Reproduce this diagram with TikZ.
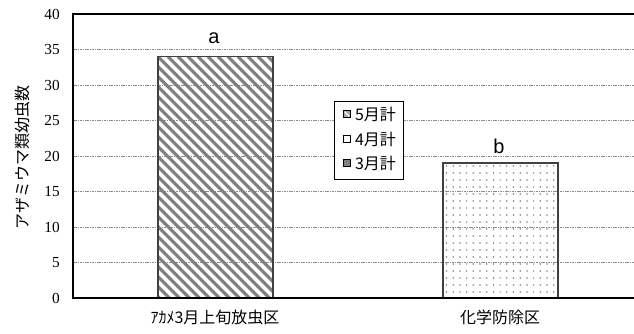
\documentclass[tikz,border=0pt]{standalone}
\usepackage{fontspec}
\setmainfont{Liberation Serif}
\setsansfont{Liberation Sans}
\newfontfamily\jpfont{Noto Sans CJK JP}
\usetikzlibrary{positioning}
\begin{document}
\begin{tikzpicture}[x=0.75pt,y=-0.75pt,
    gridline/.style={black!45,dash pattern=on 1.2pt off 0.6pt,line width=0.7pt},
    ticklabel/.style={anchor=east,inner sep=0pt,font=\fontsize{11.5}{13}\selectfont},
    catlabel/.style={inner sep=0pt,font=\jpfont\fontsize{12}{14}\selectfont},
    siglabel/.style={inner sep=0pt,font=\sffamily\fontsize{15}{17}\selectfont},
    barbox/.style={draw=black!75,line width=0.8pt},
    legendkey/.style={draw=black,line width=0.6pt,minimum size=5pt,inner sep=0pt},
    legendtext/.style={inner sep=0pt,font=\jpfont\fontsize{12}{14}\selectfont}]
    \useasboundingbox (0,0) rectangle (634,333);

    % grid lines
    \foreach \v in {5,10,...,35}
        \draw[gridline] (73,{298-7.1*\v}) -- (634,{298-7.1*\v});

    % bar 1 (hatched)
    \begin{scope}
        \clip (158,56.6) rectangle (273,298);
        \foreach \s in {-250,-240,...,120}
            \draw[gray,line width=2.3pt] ({158+\s},56.6) -- ++(250,250);
    \end{scope}
    \draw[barbox] (158,298) rectangle (273,56.6);

    % bar 2 (dotted)
    \begin{scope}
        \clip (443,163) rectangle (558,298);
        \foreach \i in {0,...,16}
            \foreach \j in {0,...,19}
                \fill[black!50] ({446.5+6.7*\i},{166+7*\j}) circle (0.85);
    \end{scope}
    \draw[barbox] (443,298) rectangle (558,163);

    % axes
    \draw[black,line width=0.9pt] (634,14) -- (73,14) -- (73,298) -- (634,298);

    % tick labels
    \foreach \v in {0,5,...,40}
        \node[ticklabel] (tick\v) at (60,{298-7.1*\v}) {\v};

    % axis title
    \node[rotate=90,font=\jpfont\fontsize{12}{14}\selectfont] (ytitle) at (22,157) {アザミウマ類幼虫数};

    % categories
    \node[catlabel] (catA) at (215,317) {ｱｶﾒ3月上旬放虫区};
    \node[catlabel] (catB) at (500,317) {化学防除区};

    % significance letters
    \node[siglabel] (sigA) at (214,38) {a};
    \node[siglabel] (sigB) at (499,146) {b};

    % legend
    \draw[fill=white,line width=0.7pt] (334,101) rectangle (403,179);
    \node[legendkey,fill=gray!70] (key5) at (347,114) {};
    \draw[white,line width=0.8pt] (344.8,111.8) -- (349.2,116.2);
    \node[legendkey,fill=white] (key4) at (347,139) {};
    \node[legendkey,fill=gray] (key3) at (347,163) {};
    \node[legendtext,right=3pt of key5] (lab5) {5月計};
    \node[legendtext,right=3pt of key4] (lab4) {4月計};
    \node[legendtext,right=3pt of key3] (lab3) {3月計};
\end{tikzpicture}
\end{document}
